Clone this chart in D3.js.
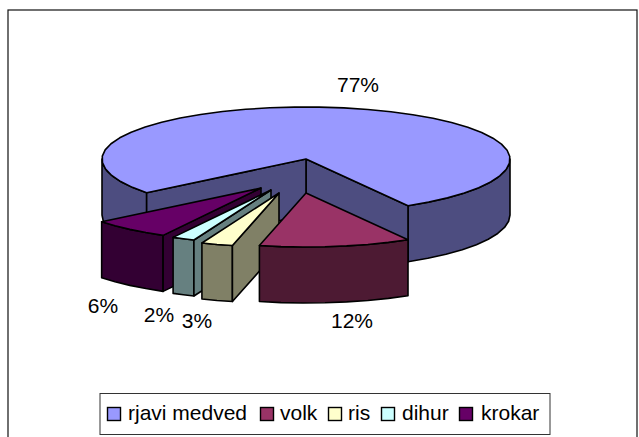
<!DOCTYPE html>
<html><head><meta charset="utf-8">
<script src="https://cdnjs.cloudflare.com/ajax/libs/d3/7.8.5/d3.min.js"></script>
<style>html,body{margin:0;padding:0;background:#fff}svg{display:block}text{font-family:"Liberation Sans",Arial,sans-serif;fill:#000}</style>
</head><body><svg id="c" width="639" height="437"></svg>
<script>
const categories = ["rjavi medved","volk","ris","dihur","krokar"];
const values = [77.4,12,2.5,1.8,6.3];
const topColors = ["#9999FF","#993366","#FFFFCC","#CCFFFF","#660066"];
const wallColors = ["#4D4D80","#4D1A33","#808066","#668080","#330033"];

const svg=d3.select("#c");
svg.append("rect").attr("x",8).attr("y",10).attr("width",629).attr("height",440)
  .attr("fill","#fff").attr("stroke","#111").attr("stroke-width",1.2);

const rx=204, ryBack=52, ryFront=54, depth=56, cx=306, cy=159;
const startDeg=231.36;
// explode offset per slice, in pixels from the pie centre
const explodeX=[0,0,-27,-35,-45], explodeY=[0,34,34,31,29];
const labelX=[358,352,197,159,103], labelY=[85,321,321,315,306];

const pie=d3.pie().sort(null).startAngle(startDeg*Math.PI/180).endAngle((startDeg+360)*Math.PI/180);
const arcs=pie(values);
const X=d3.scaleLinear().domain([-1,1]).range([-rx,rx]);
const Y=d3.scaleLinear().domain([-1,0,1]).range([-ryBack,0,ryFront]);
const line=d3.line();

function pt(a,i,z){return [cx+explodeX[i]+X(Math.sin(a)), cy+explodeY[i]+Y(-Math.cos(a))+(z||0)];}
function centre(i,z){return [cx+explodeX[i],cy+explodeY[i]+(z||0)];}
function arcPts(a0,a1,i,z){
  const n=Math.max(2,Math.ceil(Math.abs(a1-a0)/(7*Math.PI/180))),out=[];
  for(let k=0;k<=n;k++){out.push(pt(a0+(a1-a0)*k/n,i,z));}
  return out;
}
function poly(pts,fill){
  svg.append("path").attr("d",line(pts)+"Z").attr("fill",fill)
    .attr("stroke","#000").attr("stroke-width",1.6).attr("stroke-linejoin","round");
}
function frontWall(a0,a1,i){
  [[Math.PI/2,3*Math.PI/2],[2.5*Math.PI,3.5*Math.PI]].forEach(([l,h])=>{
    const lo=Math.max(a0,l), hi=Math.min(a1,h);
    if(lo<hi){poly(arcPts(lo,hi,i,0).concat(arcPts(hi,lo,i,depth)),wallColors[i]);}
  });
}
function cutWall(a,i){
  poly([centre(i),pt(a,i),pt(a,i,depth),centre(i,depth)],wallColors[i]);
}
function slice(i){
  const d=arcs[i];
  frontWall(d.startAngle,d.endAngle,i);
  if(i===0){ cutWall(d.endAngle,0); cutWall(d.startAngle,0); }
  else if(Math.sin(d.startAngle)<0){ cutWall(d.startAngle,i); }
  poly([centre(i)].concat(arcPts(d.startAngle,d.endAngle,i,0)),topColors[i]);
}
[0,4,3,2,1].forEach(slice);

const pctFmt=d3.format(".0f");
values.forEach((v,i)=>{
  svg.append("text").attr("x",labelX[i]).attr("y",labelY[i]+7).attr("text-anchor","middle")
    .attr("font-size",21).text(pctFmt(v)+"%");
});

// legend
svg.append("rect").attr("x",100).attr("y",393.5).attr("width",450).attr("height",41)
  .attr("fill","#fff").attr("stroke","#333").attr("stroke-width",1);
const legX=[107.5,260.5,328.5,381.5,459.5];
const legTextX=[128,280,348,402,481];
categories.forEach((c,i)=>{
  svg.append("rect").attr("x",legX[i]).attr("y",407.5).attr("width",13).attr("height",13)
    .attr("fill",topColors[i]).attr("stroke","#000").attr("stroke-width",1.4);
  svg.append("text").attr("x",legTextX[i]).attr("y",420).attr("font-size",21).text(c);
});
</script></body></html>
